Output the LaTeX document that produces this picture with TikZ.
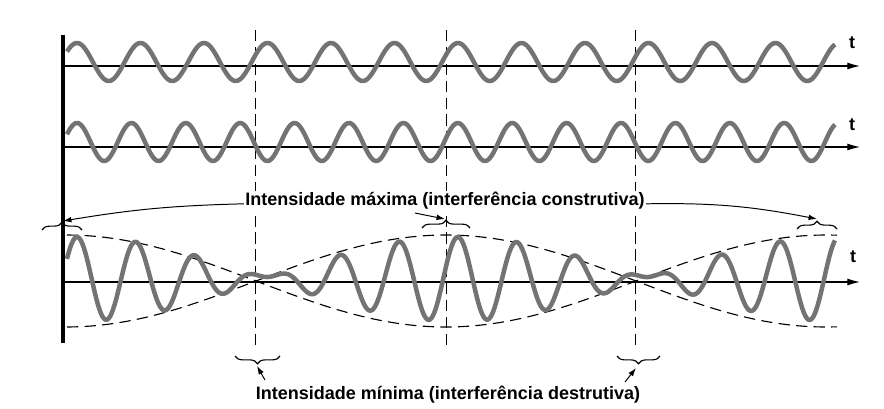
\documentclass[tikz,border=0pt]{standalone}
\usepackage{fontspec}
\setmainfont{Liberation Sans}
\usetikzlibrary{arrows.meta, decorations.pathreplacing, positioning}

\begin{document}
\begin{tikzpicture}[
  x=0.025cm, y=-0.025cm,
  wave/.style={draw=black!55, line width=3.2pt, line join=round},
  timeaxis/.style={draw, line width=0.8pt, -{Latex[length=9pt, width=5pt]}},
  guide/.style={draw, line width=0.7pt, dash pattern=on 8pt off 4pt},
  envelope/.style={draw, line width=0.8pt, dash pattern=on 8pt off 4.5pt},
  bracemark/.style={draw, line width=0.8pt, decorate, decoration={brace, amplitude=5.5pt}},
  pointer/.style={draw, line width=0.7pt, -{Latex[length=6pt, width=4pt]}},
  infotext/.style={font=\bfseries\fontsize{12.8}{15}\selectfont, fill=white, inner sep=1pt}
]
  % Background / bounding box
  \fill[white] (0, 0) rectangle (884, 409);

  % Dashed markers (max / min)
  \foreach \xg in {255, 446, 635}
    \draw[guide] (\xg, 30) -- (\xg, 345);

  % Time axes
  \coordinate (o1) at (63, 66);
  \coordinate (e1) at (860, 66);
  \coordinate (o2) at (63, 147);
  \coordinate (e2) at (860, 147);
  \coordinate (o3) at (63, 282);
  \coordinate (e3) at (860, 282);
  \draw[timeaxis] (o1) -- (e1);
  \draw[timeaxis] (o2) -- (e2);
  \draw[timeaxis] (o3) -- (e3);
  \node[infotext] (t1) at (852, 43) {t};
  \node[infotext] (t2) at (852, 125) {t};
  \node[infotext] (t3) at (853, 257) {t};

  % Envelope
  \draw[envelope] plot[domain=67:837, samples=120] (\x, {281 - 46*cos((\x-66)*0.47368)});
  \draw[envelope] plot[domain=67:837, samples=120] (\x, {281 + 46*cos((\x-66)*0.47368)});

  % Waves
  \draw[wave] plot[domain=67:835, samples=500] (\x, {62 - 19*cos((\x-77)*5.6693)});
  \draw[wave] plot[domain=67:835, samples=500] (\x, {142 - 19*cos((\x-77)*6.6176)});
  \draw[wave] plot[domain=67:835, samples=800] (\x, {279 - 22*cos((\x-77)*5.6693) - 20*cos((\x-77)*6.6176)});

  % Start bar
  \draw[line width=3pt] (63, 35) -- (63, 343);

  % Braces
  \draw[bracemark] (42, 230) -- (82, 230);
  \draw[bracemark] (422, 228) -- (470, 228);
  \draw[bracemark] (797, 229) -- (837, 229);
  \draw[bracemark] (280, 356) -- (235, 356);
  \draw[bracemark] (660, 356) -- (617, 356);

  % Labels
  \node[infotext] (maxtext) at (445, 201) {Intensidade máxima (interferência construtiva)};
  \node[infotext] (mintext) at (448, 395) {Intensidade mínima (interferência destrutiva)};

  % Pointers
  \coordinate (tipA) at (63, 221);
  \coordinate (midfrom) at (415, 213);
  \coordinate (tipB) at (445, 219);
  \coordinate (tipC) at (817, 219);
  \coordinate (fromD) at (265, 380);
  \coordinate (tipD) at (257, 366);
  \coordinate (fromE) at (625, 382);
  \coordinate (tipE) at (636, 368);
  \draw[pointer] ([yshift=-2pt]maxtext.west) to[bend right=4] (tipA);
  \draw[pointer] ([yshift=-2pt]maxtext.east) to[bend left=6] (tipC);
  \draw[pointer] (midfrom) -- (tipB);
  \draw[pointer] (fromD) -- (tipD);
  \draw[pointer] (fromE) -- (tipE);

\end{tikzpicture}
\end{document}
